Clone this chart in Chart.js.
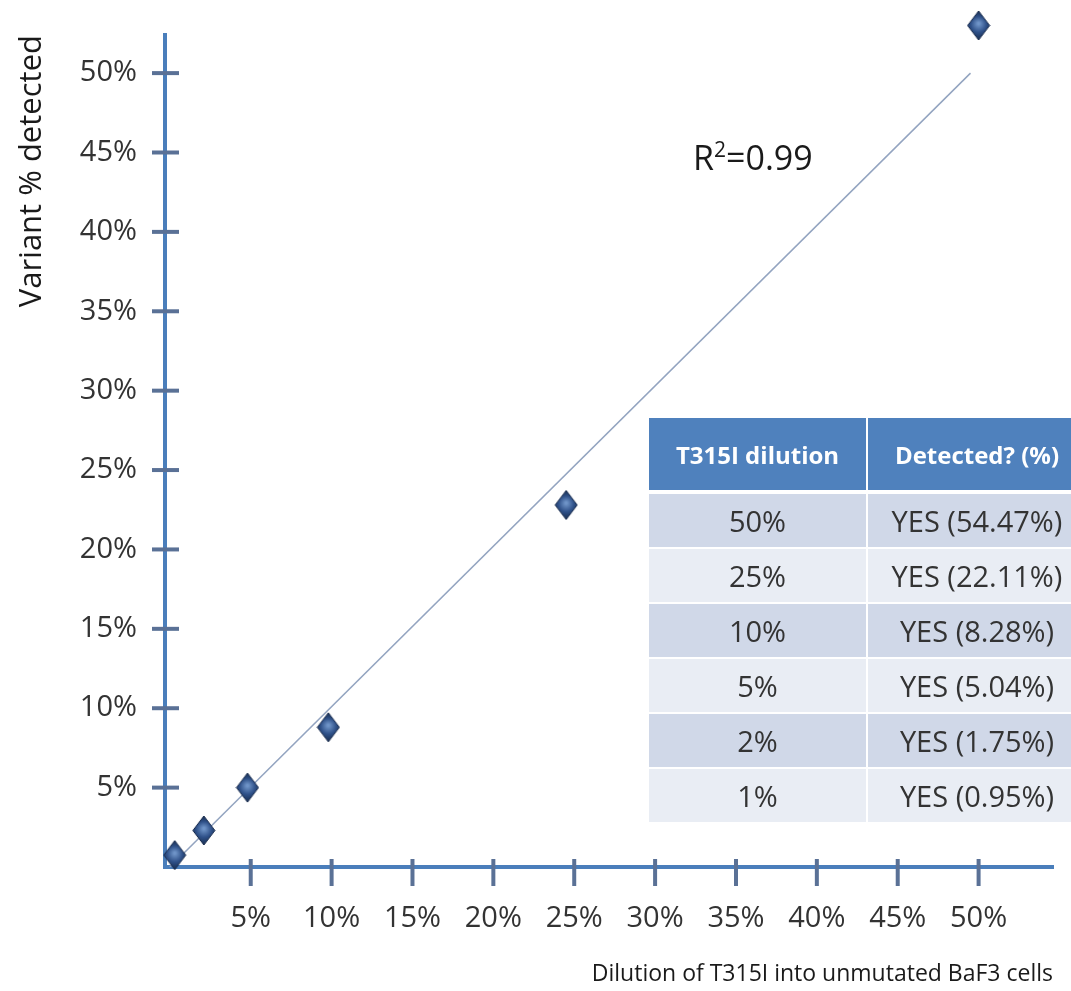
<!DOCTYPE html>
<html>
<head>
<meta charset="utf-8">
<script src="https://cdn.jsdelivr.net/npm/chart.js@4.4.1/dist/chart.umd.min.js"></script>
<style>
  html, body { margin: 0; padding: 0; background: #fff; }
  #wrap { position: relative; width: 1071px; height: 991px; overflow: hidden; font-family: "Open Sans", sans-serif; }
  #chart { position: absolute; left: 0; top: 0; }
  #rsq { position: absolute; left: 693px; top: 140px; font-size: 34px; color: #1a1a1a; white-space: nowrap; line-height: 1; }
  #rsq sup { font-size: 21px; vertical-align: 13px; line-height: 0; }
  #tbl { position: absolute; left: 647px; top: 416px; width: 439px; border-collapse: collapse; table-layout: fixed; }
  #tbl th, #tbl td { padding: 0; text-align: center; border: 2px solid #fff; white-space: nowrap; }
  #tbl th { background: #4f81bd; color: #fff; font-weight: 700; font-size: 24px; height: 72px; border-bottom-width: 4px; }
  #tbl td { font-size: 29px; color: #333; height: 53px; }
  #tbl tr.odd td { background: #d0d8e8; }
  #tbl tr.even td { background: #e9edf4; }
</style>
</head>
<body>
<div id="wrap">
  <canvas id="chart" width="1071" height="991"></canvas>
  <div id="rsq">R<sup>2</sup>=0.99</div>
  <table id="tbl">
    <colgroup><col style="width:219px"><col style="width:220px"></colgroup>
    <thead><tr><th>T315I dilution</th><th>Detected? (%)</th></tr></thead>
    <tbody id="tbody"></tbody>
  </table>
</div>
<script>
// Measured points: dilution of T315I (x) vs. variant % detected (y)
const dilutionPct = [0.3, 2.1, 4.8, 9.8, 24.5, 50.0];
const detectedPct = [0.75, 2.3, 5.0, 8.8, 22.8, 53.0];

// Linear trend line end points
const trendX = [0, 49.5];
const trendY = [0, 50.0];

// Axis tick labels
const xTicks = [5, 10, 15, 20, 25, 30, 35, 40, 45, 50];
const yTicks = [5, 10, 15, 20, 25, 30, 35, 40, 45, 50];

// Summary table
const tableDilution = ['50%', '25%', '10%', '5%', '2%', '1%'];
const tableDetected = ['YES (54.47%)', 'YES (22.11%)', 'YES (8.28%)', 'YES (5.04%)', 'YES (1.75%)', 'YES (0.95%)'];

const tbody = document.getElementById('tbody');
tableDilution.forEach((d, i) => {
  const tr = document.createElement('tr');
  tr.className = i % 2 === 0 ? 'odd' : 'even';
  const a = document.createElement('td'); a.textContent = d;
  const b = document.createElement('td'); b.textContent = tableDetected[i];
  tr.appendChild(a); tr.appendChild(b);
  tbody.appendChild(tr);
});

// Glossy diamond marker
function makeDiamond(w, h) {
  const c = document.createElement('canvas');
  c.width = w + 2; c.height = h + 2;
  const g = c.getContext('2d');
  const cx = c.width / 2, cy = c.height / 2;
  g.beginPath();
  g.moveTo(cx, 1); g.lineTo(c.width - 1, cy); g.lineTo(cx, c.height - 1); g.lineTo(1, cy); g.closePath();
  const grad = g.createRadialGradient(cx, cy - 2, 1, cx, cy, h / 2);
  grad.addColorStop(0, '#6f94c8');
  grad.addColorStop(0.5, '#2f5189');
  grad.addColorStop(1, '#172c4e');
  g.fillStyle = grad; g.fill();
  g.lineWidth = 1; g.strokeStyle = '#15284a'; g.stroke();
  return c;
}
const diamond = makeDiamond(22, 29);

const AXIS_BLUE = '#4a7ebb';
const TICK_COLOR = '#5a7196';
const LABEL_FONT = { family: '"Open Sans", sans-serif', size: 29 };

// Tick marks crossing the axis lines
const crossTicks = {
  id: 'crossTicks',
  afterDraw(chart) {
    const { ctx, scales: { x, y } } = chart;
    ctx.save();
    ctx.strokeStyle = TICK_COLOR;
    ctx.lineWidth = 4;
    ctx.lineCap = 'butt';
    x.ticks.forEach(t => {
      const px = x.getPixelForValue(t.value);
      ctx.beginPath(); ctx.moveTo(px, y.bottom - 8); ctx.lineTo(px, y.bottom + 19); ctx.stroke();
    });
    y.ticks.forEach(t => {
      const py = y.getPixelForValue(t.value);
      ctx.beginPath(); ctx.moveTo(x.left - 13, py); ctx.lineTo(x.left + 14, py); ctx.stroke();
    });
    ctx.restore();
  }
};

new Chart(document.getElementById('chart'), {
  type: 'scatter',
  data: {
    datasets: [
      {
        type: 'line',
        data: trendX.map((v, i) => ({ x: v, y: trendY[i] })),
        borderColor: '#93a4c0',
        borderWidth: 1.5,
        pointRadius: 0,
        fill: false,
        order: 2
      },
      {
        data: dilutionPct.map((v, i) => ({ x: v, y: detectedPct[i] })),
        pointStyle: diamond,
        pointRadius: 12,
        clip: false,
        order: 1
      }
    ]
  },
  options: {
    responsive: false,
    animation: false,
    events: [],
    layout: { padding: { top: 35, right: 18, left: 0, bottom: 0 } },
    plugins: { legend: { display: false }, tooltip: { enabled: false } },
    scales: {
      x: {
        type: 'linear',
        min: -0.3,
        max: 54.6,
        afterBuildTicks: s => { s.ticks = xTicks.map(v => ({ value: v })); },
        afterFit: s => { s.height = 124; s.paddingLeft = 0; s.paddingRight = 0; },
        grid: { display: false, drawTicks: false },
        border: { display: true, color: AXIS_BLUE, width: 4 },
        ticks: { color: '#333', font: LABEL_FONT, padding: 34, maxRotation: 0, callback: v => v + '%' },
        title: {
          display: true, align: 'end', text: 'Dilution of T315I into unmutated BaF3 cells',
          color: '#1a1a1a', font: { family: '"Open Sans", sans-serif', size: 23 }, padding: { top: 0, bottom: 3 }
        }
      },
      y: {
        type: 'linear',
        min: 0,
        max: 52.4,
        afterBuildTicks: s => { s.ticks = yTicks.map(v => ({ value: v })); },
        afterFit: s => { s.width = 165; s.paddingTop = 0; s.paddingBottom = 0; },
        grid: { display: false, drawTicks: false },
        border: { display: true, color: AXIS_BLUE, width: 4 },
        ticks: { color: '#333', font: LABEL_FONT, padding: 28, callback: v => v + '%' },
        title: {
          display: true, align: 'end', text: 'Variant % detected',
          color: '#1a1a1a', font: { family: '"Open Sans", sans-serif', size: 31 }, padding: { top: 14, bottom: 0 }
        }
      }
    }
  },
  plugins: [crossTicks]
});
</script>
</body>
</html>
